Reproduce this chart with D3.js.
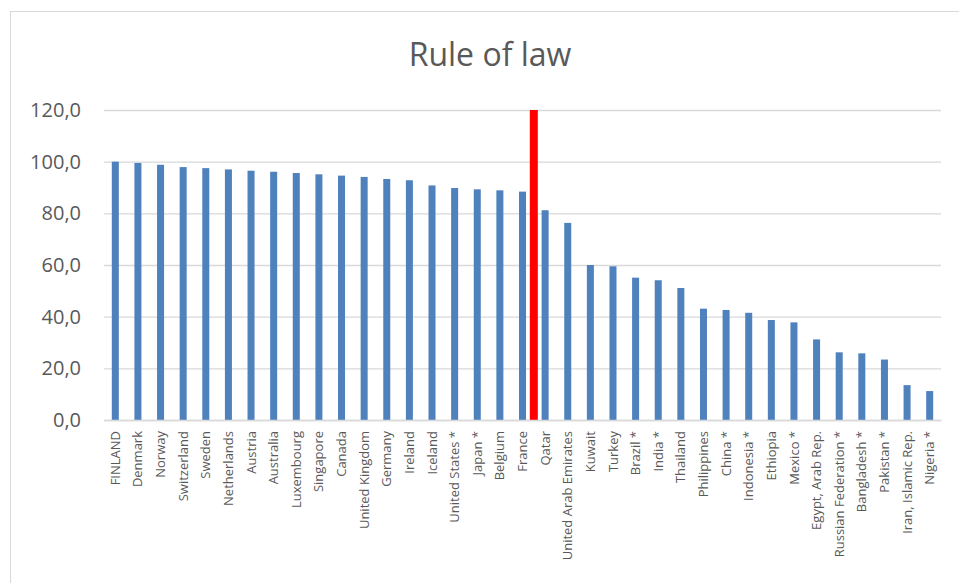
<!DOCTYPE html>
<html>
<head>
<meta charset="utf-8">
<script src="https://cdn.jsdelivr.net/npm/d3@7"></script>
<style>
  html, body { margin: 0; padding: 0; background: #fff; }
  svg { display: block; }
  text { font-family: "Open Sans", "Noto Sans", sans-serif; fill: #595959; }
</style>
</head>
<body>
<svg id="chart" width="959" height="583"></svg>
<script>
// ---- data ----
const title = "Rule of law";
const countries = [
  "FINLAND", "Denmark", "Norway", "Switzerland", "Sweden", "Netherlands",
  "Austria", "Australia", "Luxembourg", "Singapore", "Canada", "United Kingdom",
  "Germany", "Ireland", "Iceland", "United States *", "Japan *", "Belgium",
  "France", "Qatar", "United Arab Emirates", "Kuwait", "Turkey", "Brazil *",
  "India *", "Thailand", "Philippines", "China *", "Indonesia *", "Ethiopia",
  "Mexico *", "Egypt, Arab Rep.", "Russian Federation *", "Bangladesh *",
  "Pakistan *", "Iran, Islamic Rep.", "Nigeria *"
];
const values = [
  100.0, 99.5, 98.8, 97.9, 97.5, 97.0,
  96.5, 96.1, 95.6, 95.1, 94.6, 94.1,
  93.3, 92.8, 90.8, 89.8, 89.3, 88.9,
  88.4, 81.2, 76.3, 60.0, 59.5, 55.1,
  54.1, 51.1, 43.1, 42.6, 41.5, 38.7,
  37.8, 31.2, 26.2, 25.8, 23.4, 13.5, 11.2
];
const yTicks = [0, 20, 40, 60, 80, 100, 120];
// red marker drawn on the boundary after this category
const markerAfter = ["France"];
const markerValue = [120];

// ---- layout ----
const svg = d3.select("#chart");
const plot = { left: 104, right: 941, top: 110, bottom: 420 };

// chart frame
svg.append("rect")
  .attr("x", 10.5).attr("y", 11.5)
  .attr("width", 1000).attr("height", 1000)
  .attr("fill", "#fff").attr("stroke", "#d9d9d9").attr("stroke-width", 1);

const x = d3.scaleBand()
  .domain(countries)
  .range([plot.left, plot.right])
  .paddingInner(0.69)
  .paddingOuter(0.345);

const y = d3.scaleLinear()
  .domain([0, 120])
  .range([plot.bottom, plot.top]);

const fmt = v => d3.format(".1f")(v).replace(".", ",");

// gridlines + y labels
const yAxis = d3.axisLeft(y)
  .tickValues(yTicks)
  .tickSize(-(plot.right - plot.left))
  .tickPadding(23)
  .tickFormat(fmt);

const gy = svg.append("g")
  .attr("transform", `translate(${plot.left},0)`)
  .call(yAxis);
gy.select(".domain").remove();
gy.selectAll(".tick line").attr("stroke", "#d9d9d9").attr("stroke-width", 1.3);
gy.selectAll(".tick text")
  .style("font-size", "20px")
  .attr("fill", "#595959");

// bars
svg.append("g").selectAll("rect")
  .data(countries.map((c, i) => ({ c, v: values[i] })))
  .join("rect")
  .attr("x", d => x(d.c))
  .attr("width", x.bandwidth())
  .attr("y", d => y(d.v))
  .attr("height", d => y(0) - y(d.v))
  .attr("fill", "#4f81bd");

// red marker
const step = x.step();
svg.append("g").selectAll("rect")
  .data(markerAfter.map((c, i) => ({ c, v: markerValue[i] })))
  .join("rect")
  .attr("x", d => x(d.c) + x.bandwidth() / 2 + step / 2 - 4)
  .attr("width", 8)
  .attr("y", d => y(d.v))
  .attr("height", d => y(0) - y(d.v))
  .attr("fill", "#ff0000");

// x axis
const xAxis = d3.axisBottom(x).tickSize(0).tickPadding(0);
const gx = svg.append("g")
  .attr("transform", `translate(0,${plot.bottom})`)
  .call(xAxis);
gx.select(".domain").attr("stroke", "#d9d9d9").attr("stroke-width", 1.3);
gx.selectAll(".tick text")
  .attr("transform", "rotate(-90)")
  .attr("x", -11)
  .attr("y", 0)
  .attr("dy", "0.35em")
  .attr("text-anchor", "end")
  .style("font-size", "13px")
  .attr("fill", "#595959");

// title
svg.append("text")
  .attr("x", 490)
  .attr("y", 66)
  .attr("text-anchor", "middle")
  .style("font-size", "32px")
  .attr("fill", "#595959")
  .text(title);
</script>
</body>
</html>
